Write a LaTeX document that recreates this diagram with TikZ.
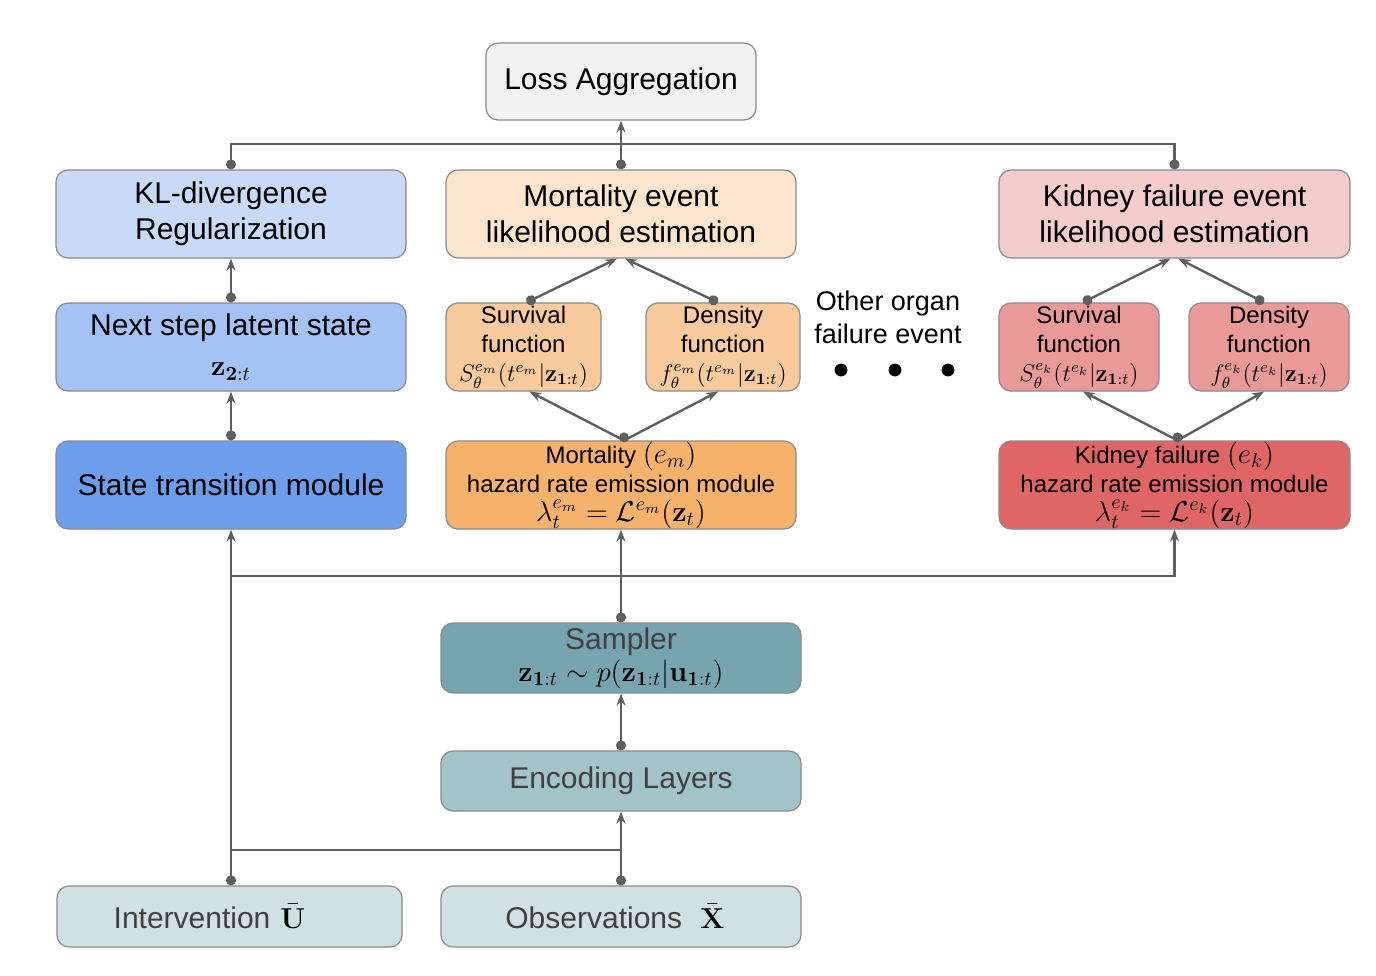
\documentclass[tikz,border=0pt]{standalone}
\usepackage[no-math]{fontspec}
\setmainfont{Liberation Sans}
\usepackage{amsmath}
\usetikzlibrary{arrows.meta,calc}
\definecolor{lossc}{HTML}{F2F2F2}
\definecolor{klc}{HTML}{C9DAF8}
\definecolor{mevc}{HTML}{FCE5CD}
\definecolor{kevc}{HTML}{F4CCCC}
\definecolor{nextc}{HTML}{A4C2F4}
\definecolor{smc}{HTML}{F9CB9C}
\definecolor{skc}{HTML}{EA9999}
\definecolor{statec}{HTML}{6D9EEB}
\definecolor{emmc}{HTML}{F6B26B}
\definecolor{emkc}{HTML}{E06666}
\definecolor{sampc}{HTML}{76A5AF}
\definecolor{encc}{HTML}{A2C4C9}
\definecolor{inc}{HTML}{D0E0E3}
\definecolor{bordc}{HTML}{8A8A8A}
\definecolor{linec}{HTML}{5F5F5F}
\definecolor{darktext}{HTML}{404040}
\newcommand{\mfs}[1]{{\fontsize{14}{14}\selectfont$#1$}}
\begin{document}
\begin{tikzpicture}[x=0.5pt,y=-0.5pt,
  bx/.style={draw=bordc, line width=0.6pt, rounded corners=6pt, align=center, inner sep=0pt},
  big/.style={font=\fontsize{15}{18}\selectfont},
  small/.style={font=\fontsize{12}{14.5}\selectfont},
  conn/.style={draw=linec, line width=1.2pt, {Circle[length=5pt]}-{Stealth[length=6pt,width=4.5pt]}},
  plain/.style={draw=linec, line width=1.2pt},
  dotstart/.style={draw=linec, line width=1.2pt, {Circle[length=5pt]}-},
  arrend/.style={draw=linec, line width=1.2pt, -{Stealth[length=6pt,width=4.5pt]}},
  jdot/.style={fill=linec},
]
\useasboundingbox (0,0) rectangle (1376,975);

% Nodes
\node[bx, big, fill=lossc, minimum width=135pt, minimum height=38.5pt] (loss) at (621,81.5) {\raisebox{-1.5pt}{Loss Aggregation}};
\node[bx, big, fill=klc, minimum width=175pt, minimum height=44pt] (kl) at (231,214) {\raisebox{-1.5pt}{KL-divergence}\\\raisebox{-1.5pt}{Regularization}};
\node[bx, big, fill=mevc, minimum width=175pt, minimum height=44pt] (mev) at (621,214) {Mortality event\\likelihood estimation};
\node[bx, big, fill=kevc, minimum width=175.5pt, minimum height=44pt] (kev) at (1174.5,214) {Kidney failure event\\likelihood estimation};
\node[bx, big, fill=nextc, minimum width=175pt, minimum height=44pt] (next) at (231,347) {Next step latent state\\[2pt]\mfs{\mathbf{z}_{\mathbf{2}:t}}};
\node[bx, small, fill=smc, minimum width=77.5pt, minimum height=44pt] (survm) at (523.5,347) {Survival\\function\\$S_\theta^{e_m}(t^{e_m}|\mathbf{z}_{\mathbf{1}:t})$};
\node[bx, small, fill=smc, minimum width=77pt, minimum height=44pt] (densm) at (723,347) {Density\\function\\$f_\theta^{e_m}(t^{e_m}|\mathbf{z}_{\mathbf{1}:t})$};
\node[bx, small, fill=skc, minimum width=80pt, minimum height=44pt] (survk) at (1079,347) {Survival\\function\\$S_\theta^{e_k}(t^{e_k}|\mathbf{z}_{\mathbf{1}:t})$};
\node[bx, small, fill=skc, minimum width=80pt, minimum height=44pt] (densk) at (1269,347) {Density\\function\\$f_\theta^{e_k}(t^{e_k}|\mathbf{z}_{\mathbf{1}:t})$};
\node[bx, big, fill=statec, minimum width=175pt, minimum height=44pt] (state) at (231,485) {State transition module};
\node[bx, small, fill=emmc, minimum width=175pt, minimum height=44pt] (emm) at (621,485) {Mortality \mfs{(e_m)}\\hazard rate emission module\\\mfs{\lambda_t^{e_m}=\mathcal{L}^{e_m}(\mathbf{z}_t)}};
\node[bx, small, fill=emkc, minimum width=175.5pt, minimum height=44pt] (emk) at (1174.5,485) {Kidney failure \mfs{(e_k)}\\hazard rate emission module\\\mfs{\lambda_t^{e_k}=\mathcal{L}^{e_k}(\mathbf{z}_t)}};
\node[bx, fill=sampc, minimum width=180pt, minimum height=35pt] (samp) at (621,658) {{\fontsize{15}{17}\selectfont\color{darktext}Sampler}\\[1pt]\mfs{\mathbf{z}_{\mathbf{1}:t}\sim p(\mathbf{z}_{\mathbf{1}:t}|\mathbf{u}_{\mathbf{1}:t})}};
\node[bx, big, fill=encc, text=darktext, minimum width=180pt, minimum height=30pt] (enc) at (621,781) {Encoding Layers};
\node[bx, big, fill=inc, text=darktext, minimum width=172.5pt, minimum height=30.5pt] (interv) at (229.5,916.5) {Intervention\hspace{5pt}\textcolor{black}{$\bar{\mathbf{U}}$}\rule{20pt}{0pt}};
\node[bx, big, fill=inc, text=darktext, minimum width=180pt, minimum height=30.5pt] (obs) at (621,916.5) {Observations\hspace{9pt}\textcolor{black}{$\bar{\mathbf{X}}$}\rule{6pt}{0pt}};

\node[align=center, font=\fontsize{13.5}{16.5}\selectfont] (other) at (888,317) {Other organ\\failure event};
\fill (841,370) circle (3.2pt) (895,370) circle (3.2pt) (948,370) circle (3.2pt);

% Coordinates
\coordinate (topbar) at (621,144);
\coordinate (midbar) at (621,576);
\coordinate (lowbar) at (621,850);
\coordinate (lowleft) at (state.south |- lowbar);
\coordinate (midleft) at (state.south |- midbar);
\coordinate (emmtop) at ([xshift=1.5pt]emm.north);
\coordinate (emktop) at ([xshift=1.5pt]emk.north);

% Top connectors
\draw[conn] (mev.north) -- (loss.south);
\draw[dotstart] (kl.north) |- (topbar);
\draw[dotstart] (kev.north) |- (topbar);

\draw[conn] (next.north) -- (kl.south);
\draw[conn] (state.north) -- (next.south);

\draw[conn] ([xshift=1.5pt]survm.north) -- ([xshift=-2pt]mev.south);
\draw[conn] ([xshift=-2.5pt]densm.north) -- ([xshift=2pt]mev.south);
\draw[arrend] (emmtop) -- ([xshift=3pt]survm.south);
\draw[arrend] (emmtop) -- ([xshift=-2.5pt]densm.south);
\fill[jdot] ([yshift=1.5pt]emmtop) circle (2.5pt);

\draw[conn] ([xshift=2pt]survk.north) -- ([xshift=-2pt]kev.south);
\draw[conn] ([xshift=-2.5pt]densk.north) -- ([xshift=2pt]kev.south);
\draw[arrend] (emktop) -- ([xshift=2pt]survk.south);
\draw[arrend] (emktop) -- ([xshift=-2.5pt]densk.south);
\fill[jdot] ([yshift=1.5pt]emktop) circle (2.5pt);

% Bottom connectors
\draw[conn] (samp.north) -- (emm.south);
\draw[plain] (midbar) -- (midleft);
\draw[arrend] (midbar) -| (emk.south);
\draw[conn] (enc.north) -- (samp.south);
\draw[conn] (obs.north) -- (enc.south);
\draw[conn] (interv.north -| state.south) -- (state.south);
\draw[plain] (lowleft) -- (lowbar);
\end{tikzpicture}
\end{document}
